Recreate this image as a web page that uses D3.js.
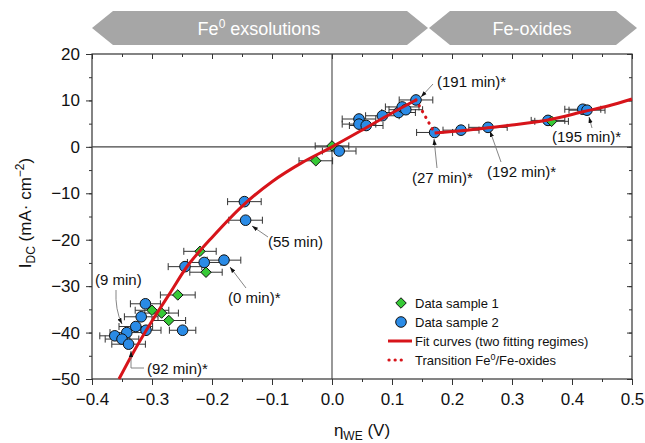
<!DOCTYPE html>
<html>
<head>
<meta charset="utf-8">
<script src="https://cdn.jsdelivr.net/npm/d3@7"></script>
<style>
  body { margin: 0; background: #fff; }
  svg { font-family: "Liberation Sans", Arial, sans-serif; }
</style>
</head>
<body>
<div id="chart"></div>
<script>
// ----------------------------------------------------------------------
// data

var sample1X   = [-0.220, -0.210, -0.257, -0.284, -0.272, -0.300, -0.027, 0.000, 0.366];
var sample1Y   = [-22.5, -27.0, -31.9, -35.8, -37.4, -35.2, -3.0, 0.2, 5.5];
var sample1Err = [0.027, 0.027, 0.029, 0.028, 0.028, 0.028, 0.028, 0.028, 0.028];

var sample2X   = [-0.146, -0.144, -0.180, -0.213, -0.245, -0.311, -0.318, -0.327, -0.310, -0.249,
                  -0.342, -0.362, -0.350, -0.339, 0.012, 0.045, 0.045, 0.057, 0.084, 0.111,
                  0.117, 0.123, 0.140, 0.171, 0.215, 0.260, 0.360, 0.418, 0.425];
var sample2Y   = [-11.8, -15.8, -24.4, -24.9, -25.8, -33.8, -36.6, -38.7, -39.5, -39.5,
                  -40.0, -40.7, -41.4, -42.5, -0.9, 6.0, 4.9, 4.6, 6.7, 7.4,
                  8.6, 8.0, 10.1, 3.1, 3.6, 4.2, 5.7, 8.1, 7.9];
var sample2Err = [0.028, 0.028, 0.028, 0.028, 0.028, 0.025, 0.028, 0.028, 0.025, 0.022,
                  0.028, 0.025, 0.028, 0.028, 0.028, 0.028, 0.028, 0.028, 0.028, 0.028,
                  0.028, 0.028, 0.028, 0.030, 0.030, 0.032, 0.028, 0.030, 0.030];

// fit regime 1 (Fe0 exsolutions) and regime 2 (Fe-oxides)
var fit1X = [-0.355, -0.330, -0.300, -0.270, -0.240, -0.200, -0.150, -0.100, -0.050, 0.000, 0.050, 0.100, 0.140];
var fit1Y = [-50.0, -44.0, -37.5, -31.5, -25.5, -19.5, -12.8, -7.5, -3.4, 0.0, 3.6, 7.3, 10.1];
var fit2X = [0.171, 0.220, 0.260, 0.300, 0.360, 0.420, 0.460, 0.500];
var fit2Y = [3.0, 3.5, 4.1, 4.7, 5.8, 7.6, 8.8, 10.3];
var transX = [0.140, 0.171];
var transY = [10.1, 3.0];

var xTicks = [-0.4, -0.3, -0.2, -0.1, 0.0, 0.1, 0.2, 0.3, 0.4, 0.5];
var yTicks = [-50, -40, -30, -20, -10, 0, 10, 20];

var legendLabels = ["Data sample 1", "Data sample 2", "Fit curves (two fitting regimes)", "Transition Fe0/Fe-oxides"];

// ----------------------------------------------------------------------

var width = 645, height = 443;
var pLeft = 92, pRight = 632, pTop = 54, pBottom = 379;

var red = "#d7141a", blue = "#2a8be6", green = "#36c936", grey = "#a6a6a6";

var svg = d3.select("#chart").append("svg")
    .attr("width", width)
    .attr("height", height);

var x = d3.scaleLinear().domain([-0.4, 0.5]).range([pLeft, pRight]);
var y = d3.scaleLinear().domain([-50, 20]).range([pBottom, pTop]);

var defs = svg.append("defs");
defs.append("marker")
    .attr("id", "ah")
    .attr("viewBox", "0 0 10 10")
    .attr("refX", 10).attr("refY", 5)
    .attr("markerWidth", 6).attr("markerHeight", 6)
    .attr("markerUnits", "userSpaceOnUse")
    .attr("orient", "auto")
    .append("path").attr("d", "M0,1.5L10,5L0,8.5Z").attr("fill", "#111");

// banner arrows on top
var banners = [
    {label: "Fe", sup: "0", rest: " exsolutions", x0: 92, x1: 428},
    {label: "Fe-oxides", sup: "", rest: "", x0: 429, x1: 637}
];
banners.forEach(function(b) {
    var t = 11, bt = 45, m = 28, n = 21;
    svg.append("path")
        .attr("d", "M" + b.x0 + "," + m + "L" + (b.x0 + n) + "," + t + "L" + (b.x1 - n) + "," + t +
                   "L" + b.x1 + "," + m + "L" + (b.x1 - n) + "," + bt + "L" + (b.x0 + n) + "," + bt + "Z")
        .attr("fill", grey);
    var tx = svg.append("text")
        .attr("x", (b.x0 + b.x1) / 2 - 1)
        .attr("y", 35)
        .attr("text-anchor", "middle")
        .attr("fill", "#fff")
        .attr("font-size", 18);
    tx.append("tspan").text(b.label);
    if (b.sup) {
        tx.append("tspan").attr("dy", -7).attr("font-size", 12).text(b.sup);
        tx.append("tspan").attr("dy", 7).text(b.rest);
    }
});

// axes
var fmtX = d3.format(".1f");
var minorX = d3.range(-0.4, 0.5001, 0.05);
var minorY = d3.range(-50, 20.001, 5);

function styleAxis(g) {
    g.select(".domain").remove();
    g.selectAll("line").attr("stroke", "#333");
    g.selectAll("text").attr("font-size", 17).attr("fill", "#111");
}

svg.append("g").attr("transform", "translate(0," + pBottom + ")")
    .call(d3.axisBottom(x).tickValues(minorX).tickSize(3).tickFormat(""))
    .call(styleAxis);
svg.append("g").attr("transform", "translate(0," + pBottom + ")")
    .call(d3.axisBottom(x).tickValues(xTicks).tickSize(6).tickPadding(8).tickFormat(fmtX))
    .call(styleAxis);
svg.append("g").attr("transform", "translate(0," + pTop + ")")
    .call(d3.axisBottom(x).tickValues(minorX).tickSize(3).tickFormat(""))
    .call(styleAxis);
svg.append("g").attr("transform", "translate(0," + pTop + ")")
    .call(d3.axisBottom(x).tickValues(xTicks).tickSize(5).tickFormat(""))
    .call(styleAxis);

svg.append("g").attr("transform", "translate(" + pLeft + ",0)")
    .call(d3.axisLeft(y).tickValues(minorY).tickSize(3).tickFormat(""))
    .call(styleAxis);
svg.append("g").attr("transform", "translate(" + pLeft + ",0)")
    .call(d3.axisLeft(y).tickValues(yTicks).tickSize(6).tickPadding(6))
    .call(styleAxis);
svg.append("g").attr("transform", "translate(" + pRight + ",0)")
    .call(d3.axisRight(y).tickValues(minorY).tickSize(-3).tickFormat(""))
    .call(styleAxis);
svg.append("g").attr("transform", "translate(" + pRight + ",0)")
    .call(d3.axisRight(y).tickValues(yTicks).tickSize(-5).tickFormat(""))
    .call(styleAxis);

// frame and zero lines
svg.append("rect")
    .attr("x", pLeft).attr("y", pTop)
    .attr("width", pRight - pLeft).attr("height", pBottom - pTop)
    .attr("fill", "none").attr("stroke", "#333").attr("stroke-width", 1.2);
svg.append("line")
    .attr("x1", pLeft).attr("x2", pRight).attr("y1", y(0)).attr("y2", y(0))
    .attr("stroke", "#444").attr("stroke-width", 1.1);
svg.append("line")
    .attr("x1", x(0)).attr("x2", x(0)).attr("y1", pTop).attr("y2", pBottom)
    .attr("stroke", "#444").attr("stroke-width", 1.1);

// axis titles
var yt = svg.append("text")
    .attr("transform", "translate(31,213) rotate(-90)")
    .attr("text-anchor", "middle")
    .attr("font-size", 17).attr("fill", "#111");
yt.append("tspan").text("I");
yt.append("tspan").attr("dy", 4).attr("font-size", 12).text("DC");
yt.append("tspan").attr("dy", -4).text(" (mA\u00b7 cm");
yt.append("tspan").attr("dy", -7).attr("font-size", 12).text("\u22122");
yt.append("tspan").attr("dy", 7).text(")");

var xt = svg.append("text")
    .attr("x", 362).attr("y", 436)
    .attr("text-anchor", "middle")
    .attr("font-size", 17).attr("fill", "#111");
xt.append("tspan").text("\u03b7");
xt.append("tspan").attr("dy", 4).attr("font-size", 12).text("WE");
xt.append("tspan").attr("dy", -4).text(" (V)");

// error bars and markers
function points(xs, ys, errs) {
    return xs.map(function(v, i) { return {x: v, y: ys[i], e: errs[i]}; });
}
var s1 = points(sample1X, sample1Y, sample1Err);
var s2 = points(sample2X, sample2Y, sample2Err);

function errorBars(data) {
    var g = svg.append("g").attr("stroke", "#333").attr("stroke-width", 1);
    g.selectAll("line.h").data(data).enter().append("line")
        .attr("x1", function(d) { return x(d.x - d.e); })
        .attr("x2", function(d) { return x(d.x + d.e); })
        .attr("y1", function(d) { return y(d.y); })
        .attr("y2", function(d) { return y(d.y); });
    [-1, 1].forEach(function(s) {
        g.selectAll("line.c" + s).data(data).enter().append("line")
            .attr("x1", function(d) { return x(d.x + s * d.e); })
            .attr("x2", function(d) { return x(d.x + s * d.e); })
            .attr("y1", function(d) { return y(d.y) - 3.5; })
            .attr("y2", function(d) { return y(d.y) + 3.5; });
    });
}
errorBars(s2);
errorBars(s1);

svg.append("g").selectAll("circle").data(s2).enter().append("circle")
    .attr("cx", function(d) { return x(d.x); })
    .attr("cy", function(d) { return y(d.y); })
    .attr("r", 5.3)
    .attr("fill", blue).attr("stroke", "#111").attr("stroke-width", 1);

var diamond = d3.symbol().type(d3.symbolDiamond2).size(70);
svg.append("g").selectAll("path").data(s1).enter().append("path")
    .attr("transform", function(d) { return "translate(" + x(d.x) + "," + y(d.y) + ")"; })
    .attr("d", diamond)
    .attr("fill", green).attr("stroke", "#111").attr("stroke-width", 1);

// fit curves
var line = d3.line()
    .x(function(d) { return x(d[0]); })
    .y(function(d) { return y(d[1]); })
    .curve(d3.curveCatmullRom);

svg.append("path").datum(d3.zip(fit1X, fit1Y))
    .attr("d", line).attr("fill", "none").attr("stroke", red).attr("stroke-width", 3);
svg.append("path").datum(d3.zip(fit2X, fit2Y))
    .attr("d", line).attr("fill", "none").attr("stroke", red).attr("stroke-width", 3);
svg.append("path").datum(d3.zip(transX, transY))
    .attr("d", d3.line().x(function(d) { return x(d[0]); }).y(function(d) { return y(d[1]); }))
    .attr("fill", "none").attr("stroke", red).attr("stroke-width", 3.2)
    .attr("stroke-linecap", "round").attr("stroke-dasharray", "0.1,6.5");

// annotations (text position, arrow path)
var notes = [
    {t: "(191 min)*", tx: 437, ty: 87, path: "M433,84L421,97"},
    {t: "(27 min)*",  tx: 412, ty: 183, path: "M437,168L434,139"},
    {t: "(192 min)*", tx: 487, ty: 177, path: "M501,162L490,131"},
    {t: "(195 min)*", tx: 552, ty: 142, path: "M592,128L589,117"},
    {t: "(55 min)",   tx: 268, ty: 247, path: "M268,237L252,226"},
    {t: "(0 min)*",   tx: 228, ty: 303, path: "M246,288L230,267"},
    {t: "(9 min)",    tx: 95,  ty: 285, path: "M116,290Q115,310 122,324"},
    {t: "(92 min)*",  tx: 147, ty: 374, path: "M144,368L131,368L131,351"}
];
notes.forEach(function(n) {
    svg.append("path").attr("d", n.path)
        .attr("fill", "none").attr("stroke", "#777").attr("stroke-width", 0.9)
        .attr("marker-end", "url(#ah)");
    svg.append("text").attr("x", n.tx).attr("y", n.ty)
        .attr("font-size", 15).attr("fill", "#111").text(n.t);
});

// legend
var lg = svg.append("g").attr("transform", "translate(401,303)");
var rowH = 19;
legendLabels.forEach(function(lab, i) {
    var cy = i * rowH;
    if (i === 0) {
        lg.append("path").attr("transform", "translate(0," + cy + ")").attr("d", diamond)
            .attr("fill", green).attr("stroke", "#111");
    } else if (i === 1) {
        lg.append("circle").attr("cx", 0).attr("cy", cy).attr("r", 5.3)
            .attr("fill", blue).attr("stroke", "#111");
    } else if (i === 2) {
        lg.append("line").attr("x1", -13).attr("x2", 11).attr("y1", cy).attr("y2", cy)
            .attr("stroke", red).attr("stroke-width", 3);
    } else {
        lg.append("line").attr("x1", -12).attr("x2", 6).attr("y1", cy).attr("y2", cy)
            .attr("stroke", red).attr("stroke-width", 3.2)
            .attr("stroke-linecap", "round").attr("stroke-dasharray", "0.1,6");
    }
    var t = lg.append("text").attr("x", 14).attr("y", cy + 5)
        .attr("font-size", 13).attr("fill", "#111");
    if (i === 3) {
        t.append("tspan").text("Transition Fe");
        t.append("tspan").attr("dy", -5).attr("font-size", 9).text("0");
        t.append("tspan").attr("dy", 5).text("/Fe-oxides");
    } else {
        t.text(lab);
    }
});
</script>
</body>
</html>
